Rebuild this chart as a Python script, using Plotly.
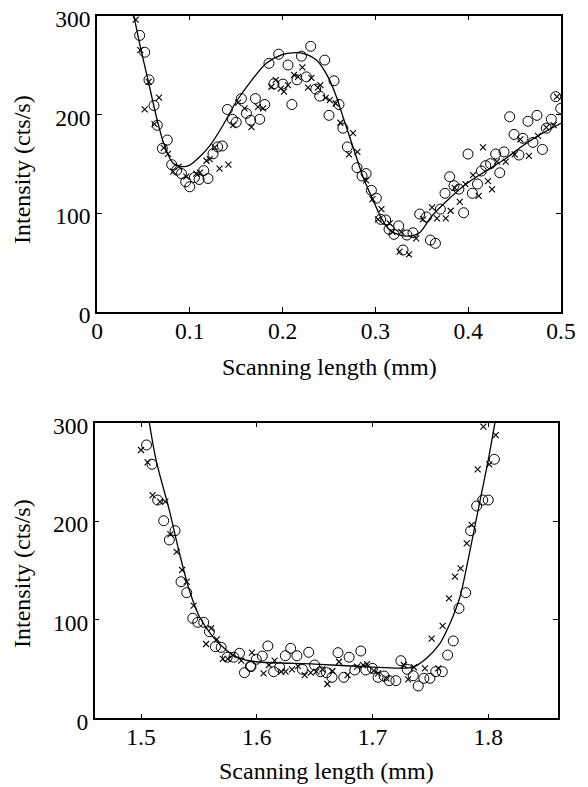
import plotly.graph_objects as go

# ---------------- data: upper panel (0 - 0.5 mm) ----------------
top_circ_x = [0.046, 0.0514, 0.056, 0.0614, 0.065, 0.0758, 0.0704, 0.0805, 0.086, 0.091,
              0.0956, 0.0999, 0.105, 0.110, 0.115, 0.1196, 0.125, 0.130, 0.135, 0.1405,
              0.146, 0.150, 0.1556, 0.161, 0.1656, 0.1707, 0.1753, 0.1807, 0.1853, 0.1907,
              0.1958, 0.2004, 0.2058, 0.210, 0.2155, 0.2203, 0.2256, 0.2303, 0.2357, 0.24,
              0.2454, 0.25, 0.2554, 0.2608, 0.265, 0.2698, 0.2802, 0.2856, 0.290, 0.2957,
              0.301, 0.3057, 0.311, 0.3147, 0.320, 0.3251, 0.3298, 0.334, 0.3405, 0.3477,
              0.355, 0.3593, 0.3647, 0.370, 0.375, 0.380, 0.3847, 0.390, 0.3951, 0.3998,
              0.4045, 0.41, 0.4142, 0.4189, 0.424, 0.4296, 0.434, 0.4386, 0.4447, 0.4494,
              0.4547, 0.459, 0.4644, 0.4698, 0.4741, 0.48, 0.4842, 0.4896, 0.4943, 0.4997]
top_circ_y = [280, 263, 235, 209, 189, 174, 165.5, 149, 143.5, 140,
              131.7, 126.6, 136, 134, 143, 135, 160, 167, 168, 205,
              195, 192, 216, 201, 194, 216, 195, 210, 251.7, 231,
              261, 230.7, 250, 210, 235, 259, 238, 269, 225.6, 218.5,
              255, 199, 234, 210, 186, 167, 146, 137.5, 140, 123,
              115, 93.6, 93, 83.5, 78.4, 87, 62.5, 77.7, 80, 99,
              96, 72.6, 69.3, 104, 120, 136.8, 127.7, 124.3, 100.3, 159.8,
              120, 129.4, 142.6, 148, 150, 159.8, 140.8, 162, 197.6, 179.7,
              158.8, 175.7, 193, 171.6, 199, 164.5, 186, 195, 218, 206]

top_x_x = [0.0417, 0.0467, 0.0557, 0.0514, 0.0668, 0.062, 0.0719, 0.0765, 0.082, 0.088,
           0.0963, 0.107, 0.111, 0.118, 0.1214, 0.1268, 0.132, 0.1416, 0.1466, 0.152,
           0.159, 0.1664, 0.1735, 0.179, 0.188, 0.1926, 0.198, 0.2015, 0.2058, 0.2123,
           0.2166, 0.2213, 0.2274, 0.231, 0.238, 0.2407, 0.2464, 0.2508, 0.2572, 0.2623,
           0.2759, 0.2716, 0.2806, 0.290, 0.2968, 0.3065, 0.3028, 0.3154, 0.3183, 0.326,
           0.3362, 0.328, 0.344, 0.3513, 0.361, 0.3664, 0.3758, 0.3811, 0.3854, 0.3909,
           0.397, 0.4052, 0.4113, 0.416, 0.4213, 0.4257, 0.431, 0.4404, 0.4501, 0.4562,
           0.4655, 0.4752, 0.4842, 0.4921, 0.4957]
top_x_y = [296, 265, 233, 205, 217, 190, 166, 160, 142, 147,
           136.8, 140, 141, 153, 154.7, 166.6, 145, 149, 189, 212,
           206, 187, 207.7, 206, 228, 234.7, 226, 223, 229.7, 240,
           238, 247.6, 227, 237, 227, 229.7, 216.8, 214.5, 211, 191.5,
           181, 159.5, 162, 133, 114, 104, 93.6, 89.6, 81, 60.8,
           58, 81, 74.4, 93.6, 105.8, 94.6, 94.6, 102.3, 125.6, 111.4,
           129.4, 138.5, 117.5, 166.6, 132.4, 124, 152, 152, 159.5, 174.7,
           158, 178.3, 186.8, 189, 218]

top_fit_x = [0.0397, 0.0467, 0.055, 0.064, 0.0719, 0.082, 0.0927, 0.0999, 0.1107, 0.1214,
             0.1358, 0.150, 0.1646, 0.1825, 0.2004, 0.2112, 0.222, 0.2364, 0.2489, 0.258,
             0.265, 0.2759, 0.2866, 0.2974, 0.3065, 0.3154, 0.3262, 0.337, 0.3477, 0.36,
             0.38, 0.40, 0.42, 0.44, 0.46, 0.48, 0.50]
top_fit_y = [300, 268.5, 234.7, 197.6, 170.6, 150.4, 147, 148.6, 157, 168,
             189, 212.8, 232, 251.7, 260.8, 262.4, 261.8, 255, 238, 217.8,
             197.6, 167, 136.8, 113.2, 94.6, 82.8, 77.7, 76.7, 80, 96,
             115, 131, 143, 155, 169, 181, 191]

# ---------------- data: lower panel (1.46 - 1.86 mm) ----------------
bot_circ_x = [1.5048, 1.5095, 1.5144, 1.5196, 1.5294, 1.5245, 1.5346, 1.5395, 1.5447, 1.549,
              1.5542, 1.5591, 1.5643, 1.5693, 1.5745, 1.5802, 1.5851, 1.5894, 1.5946, 1.5996,
              1.595, 1.6048, 1.6096, 1.6146, 1.6198, 1.6247, 1.6293, 1.6347, 1.6394, 1.6449,
              1.65, 1.655, 1.6602, 1.665, 1.6702, 1.6752, 1.6798, 1.6847, 1.6899, 1.6942,
              1.70, 1.7048, 1.71, 1.7144, 1.7202, 1.7245, 1.73, 1.7352, 1.7395, 1.7444,
              1.7496, 1.7546, 1.7603, 1.7649, 1.7698, 1.7747, 1.7805, 1.7848, 1.79, 1.7952,
              1.80, 1.8053]
bot_circ_y = [277.4, 257.8, 221.5, 200.5, 190.4, 181, 138.6, 127.5, 101.5, 97.4,
              97.4, 87.9, 72.7, 72, 62, 62, 66, 46.3, 53.1, 59.9,
              52.4, 63.2, 73.4, 47.3, 51.8, 63.5, 71, 63.5, 49.7, 67,
              54.1, 47.3, 46.3, 41.6, 66.6, 41.6, 62, 49, 68.3, 49,
              50.7, 41.6, 42.9, 38.2, 38.2, 58.5, 49.7, 43.2, 32.8, 40.6,
              40.6, 47.3, 47.3, 64.2, 78.5, 111.6, 127.5, 190.4, 215.5, 221.5,
              221.5, 262.9]

bot_x_x = [1.500, 1.5057, 1.510, 1.5164, 1.521, 1.5254, 1.5308, 1.5355, 1.5395, 1.5455,
           1.5562, 1.5606, 1.5655, 1.5707, 1.575, 1.5793, 1.5866, 1.5958, 1.6059, 1.6105,
           1.6154, 1.6212, 1.6249, 1.6304, 1.6356, 1.6414, 1.6466, 1.6515, 1.6567, 1.661,
           1.6654, 1.6711, 1.6784, 1.6867, 1.6919, 1.6953, 1.7011, 1.7048, 1.712, 1.7271,
           1.7308, 1.7358, 1.7453, 1.7511, 1.7568, 1.7606, 1.7661, 1.7712, 1.7761, 1.7814,
           1.7857, 1.7909, 1.7958, 1.8009, 1.8065]
bot_x_y = [272.3, 259.8, 226.6, 219.8, 219.8, 186.7, 169, 150.5, 138.6, 114.3,
           75.4, 91.3, 80.2, 60.2, 60.2, 64.2, 58.5, 66.6, 45.7, 54.1,
           58.5, 47.3, 47.3, 49.7, 53, 43.9, 46.3, 47.3, 49.7, 34.8,
           48, 57.4, 43.9, 52.4, 54, 55, 48.3, 45.7, 40.6, 54.1,
           39.6, 51.8, 50.7, 80.8, 50.7, 93.7, 121.8, 143.7, 152.2, 177.6,
           196.2, 252.7, 296, 257.8, 287.5]

bot_fit_x = [1.5072, 1.513, 1.5245, 1.5332, 1.5418, 1.5505, 1.562, 1.5736, 1.585, 1.5996,
             1.65, 1.70, 1.7236, 1.735, 1.7467, 1.7583, 1.767, 1.7756, 1.7843, 1.793,
             1.80, 1.8058]
bot_fit_y = [300, 262, 211, 167.5, 130, 103, 82.8, 69.3, 61, 57.4,
             55, 52, 51, 52, 61, 76, 96.4, 123.4, 170.8, 221.5,
             262, 300]

# ---------------- figure ----------------
# the page body adds an 8 px margin, so the figure is 8 px smaller and
# every pixel position below is measured from the figure's own corner
W, H = 580, 779
FONT = "Liberation Serif, Times New Roman, Times, serif"

fig = go.Figure()

panels = [
    ("x", "y", top_circ_x, top_circ_y, top_x_x, top_x_y, top_fit_x, top_fit_y),
    ("x2", "y2", bot_circ_x, bot_circ_y, bot_x_x, bot_x_y, bot_fit_x, bot_fit_y),
]

for xa, ya, cx, cy, xx, xy, fx, fy in panels:
    fig.add_trace(go.Scatter(
        x=cx, y=cy, xaxis=xa, yaxis=ya, mode="markers",
        marker=dict(symbol="circle-open", size=10, color="black", line=dict(width=1)),
        showlegend=False))
    fig.add_trace(go.Scatter(
        x=xx, y=xy, xaxis=xa, yaxis=ya, mode="markers",
        marker=dict(symbol="x-thin-open", size=6, color="black", line=dict(width=1.1)),
        showlegend=False))
    fig.add_trace(go.Scatter(
        x=fx, y=fy, xaxis=xa, yaxis=ya, mode="lines",
        line=dict(color="black", width=1.3, shape="spline", smoothing=0.8),
        showlegend=False))

axis_style = dict(
    showline=True, linecolor="black", linewidth=1.5, mirror="ticks",
    ticks="inside", ticklen=5, tickwidth=1, tickcolor="black",
    showgrid=False, zeroline=False, automargin=False,
    ticklabeloverflow="allow",
    tickfont=dict(family=FONT, size=23.5, color="black"),
)

fig.update_layout(
    width=W, height=H,
    margin=dict(l=0, r=0, t=0, b=0),
    paper_bgcolor="white", plot_bgcolor="white",
    font=dict(family=FONT, color="black"),
    xaxis=dict(domain=[89 / W, 553 / W], range=[0, 0.5], tickvals=[0, 0.1, 0.2, 0.3, 0.4, 0.5],
               ticktext=["0", "0.1", "0.2", "0.3", "0.4", "0.5"], anchor="y",
               ticklabelstandoff=-3, **axis_style),
    yaxis=dict(domain=[1 - 303.7 / H, 1 - 7.7 / H], range=[0, 300], tickvals=[0, 100, 200, 300],
               anchor="x", ticklabelshift=3, **axis_style),
    xaxis2=dict(domain=[86.7 / W, 549.7 / W], range=[1.46, 1.86], tickvals=[1.5, 1.6, 1.7, 1.8],
                ticktext=["1.5", "1.6", "1.7", "1.8"], anchor="y2",
                ticklabelstandoff=-3, **axis_style),
    yaxis2=dict(domain=[1 - 710.3 / H, 1 - 414.7 / H], range=[0, 300], tickvals=[0, 100, 200, 300],
                anchor="x2", ticklabelshift=3, **axis_style),
)

# axis titles as annotations
title_font = dict(family=FONT, size=24, color="black")
for xc, yc, txt, ang in [
    (321 / W, 1 - 359 / H, "Scanning length (mm)", 0),
    (318 / W, 1 - 763 / H, "Scanning length (mm)", 0),
    (14 / W, 1 - 162 / H, "Intensity (cts/s)", -90),
    (14 / W, 1 - 566 / H, "Intensity (cts/s)", -90),
]:
    fig.add_annotation(x=xc, y=yc, xref="paper", yref="paper", text=txt, showarrow=False,
                       textangle=ang, font=title_font, xanchor="center", yanchor="middle")

fig.write_html("out.html")
